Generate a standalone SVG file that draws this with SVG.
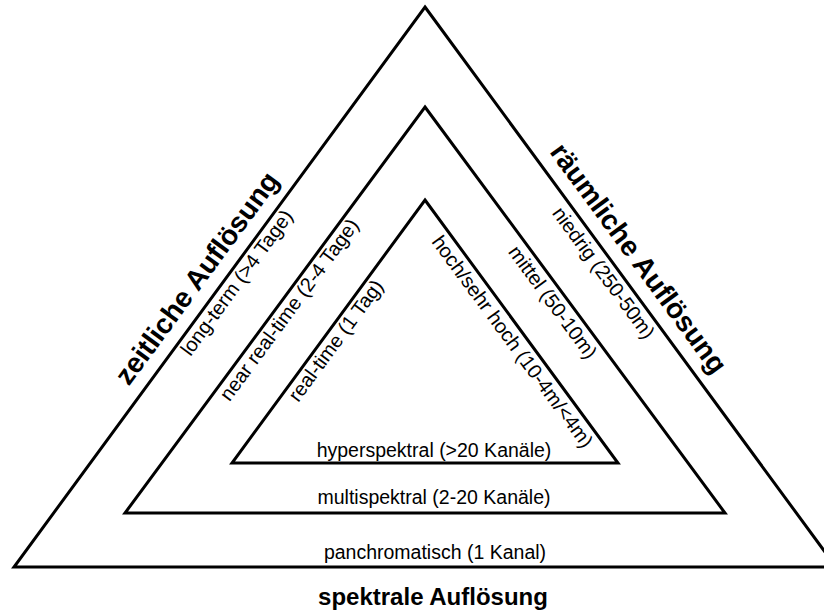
<svg xmlns="http://www.w3.org/2000/svg" width="824" height="614" viewBox="0 0 824 614">
<style>
.tri{fill:none;stroke:#000;stroke-width:3;stroke-linejoin:miter}
.lbl{font-family:"Liberation Sans",Arial,sans-serif;font-size:20px;fill:#000;text-anchor:middle}
.bot{font-size:19.5px}
.ttl{font-family:"Liberation Sans",Arial,sans-serif;font-weight:bold;fill:#000;text-anchor:middle}
</style>
<rect width="824" height="614" fill="#fff"/>
<g id="connectors"></g>
<g id="outer">
<polygon class="tri" points="425,7 836,567 14,567"/>
<text class="lbl bot" x="435" y="559">panchromatisch (1 Kanal)</text>
<text class="lbl" transform="translate(242.1,286.6) rotate(-53.7)">long-term (&gt;4 Tage)</text>
<text class="lbl" transform="translate(598.2,276.8) rotate(53.7)">niedrig (250-50m)</text>
</g>
<g id="middle">
<polygon class="tri" points="425,107 725,513 125,513"/>
<text class="lbl bot" x="434" y="504">multispektral (2-20 Kanäle)</text>
<text class="lbl" transform="translate(294.6,313.8) rotate(-53.7)">near real-time (2-4 Tage)</text>
<text class="lbl" transform="translate(547.4,306.3) rotate(53.7)">mittel (50-10m)</text>
</g>
<g id="inner">
<polygon class="tri" points="425,200 618,463 232,463"/>
<text class="lbl bot" x="434" y="457">hyperspektral (&gt;20 Kanäle)</text>
<text class="lbl" transform="translate(341.2,344.6) rotate(-53.7)">real-time (1 Tag)</text>
<text class="lbl" transform="translate(507.1,345.6) rotate(53.7)">hoch/sehr hoch (10-4m/&lt;4m)</text>
</g>
<g id="titles">
<text class="ttl" font-size="28" transform="translate(204.5,283.8) rotate(-53.7)">zeitliche Auflösung</text>
<text class="ttl" font-size="28" transform="translate(631,263.9) rotate(53.7)">räumliche Auflösung</text>
<text class="ttl" font-size="24" x="433" y="605">spektrale Auflösung</text>
</g>
</svg>
